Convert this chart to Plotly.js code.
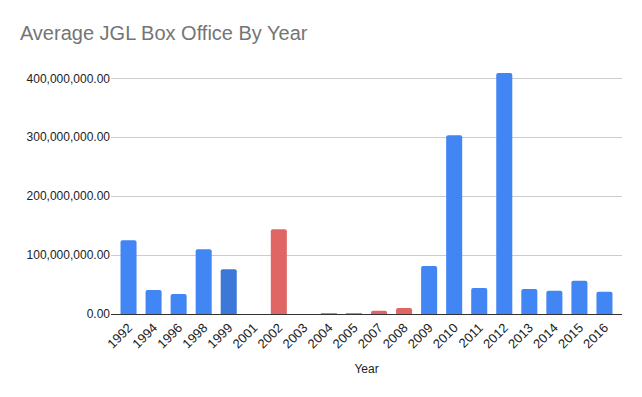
<!DOCTYPE html>
<html>
<head>
<meta charset="utf-8">
<script src="https://cdn.plot.ly/plotly-3.0.1.min.js"></script>
<style>html,body{margin:0;padding:0;background:#fff;}#chart{width:642px;height:397px;}</style>
</head>
<body>
<div id="chart"></div>
<script>
var years = ["1992","1994","1996","1998","1999","2001","2002","2003","2004","2005","2007","2008","2009","2010","2011","2012","2013","2014","2015","2016"];
var avgBoxOffice = [125400000,40700000,33900000,110000000,76000000,0,144000000,0,1500000,1500000,5500000,10000000,81400000,303400000,44000000,409000000,42400000,39500000,56400000,37800000];
var barColors = ["#4285f4","#4285f4","#4285f4","#4285f4","#3c78d8","#4285f4","#e06666","#4285f4","#e06666","#e06666","#e06666","#e06666","#4285f4","#4285f4","#4285f4","#4285f4","#4285f4","#4285f4","#4285f4","#4285f4"];
var yTicks = [0,100000000,200000000,300000000,400000000];

var trace = {
  type: "bar",
  x: years,
  y: avgBoxOffice,
  marker: {color: barColors, cornerradius: 2},
  hoverinfo: "x+y"
};
var layout = {
  width: 642, height: 397,
  margin: {l: 111, r: 20, t: 66, b: 83},
  paper_bgcolor: "#fff", plot_bgcolor: "#fff",
  font: {family: "Liberation Sans, Arial, sans-serif", size: 12, color: "#222"},
  title: {text: "Average JGL Box Office By Year", x: 0.031, xanchor: "left", y: 0.917, yanchor: "middle",
          font: {family: "Liberation Sans, Arial, sans-serif", size: 20, color: "#757575"}},
  bargap: 0.36,
  showlegend: false,
  xaxis: {
    type: "category",
    range: [-0.7, 19.7],
    tickangle: -45,
    showgrid: false,
    showline: true, linecolor: "#333", linewidth: 1,
    ticks: "", ticklen: 0,
    tickfont: {size: 13, color: "#222"},
    title: {text: "Year", font: {size: 12, color: "#222"}, standoff: 14}
  },
  yaxis: {
    range: [0, 421000000],
    tickvals: yTicks,
    tickformat: ",.2f",
    showgrid: true, gridcolor: "#cccccc", gridwidth: 1,
    zeroline: false,
    showline: false,
    ticks: "",
    tickfont: {size: 12, color: "#222"}
  }
};
Plotly.newPlot("chart", [trace], layout, {displayModeBar: false, staticPlot: true});
</script>
</body>
</html>
